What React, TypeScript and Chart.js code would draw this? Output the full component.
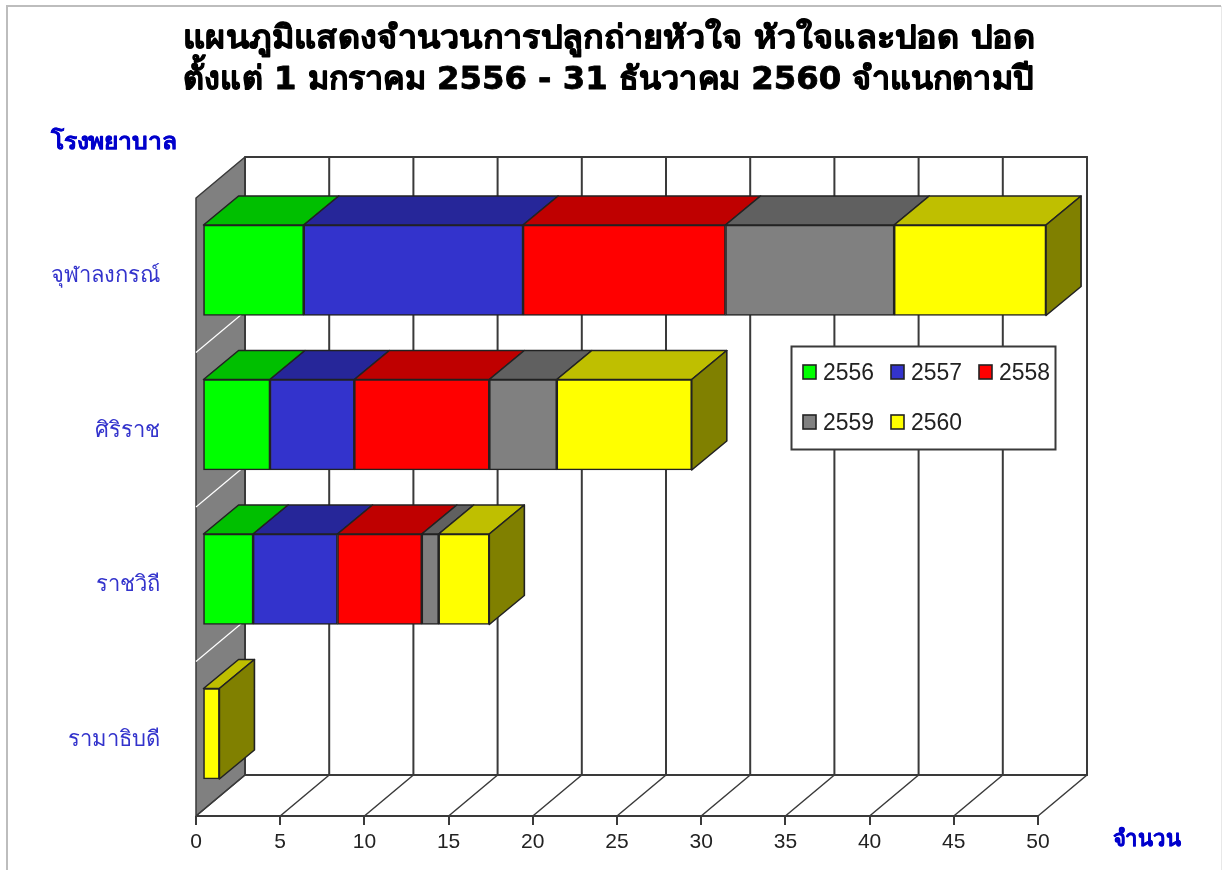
import React, { useEffect, useRef } from "react";
import { Chart, registerables } from "chart.js";

Chart.register(...registerables);

const hospitals = ["จุฬาลงกรณ์", "ศิริราช", "ราชวิถี", "รามาธิบดี"];
const years = ["2556", "2557", "2558", "2559", "2560"];
const y2556 = [6, 4, 3, 0];
const y2557 = [13, 5, 5, 0];
const y2558 = [12, 8, 5, 0];
const y2559 = [10, 4, 1, 0];
const y2560 = [9, 8, 3, 1];
const seriesValues = [y2556, y2557, y2558, y2559, y2560];
const frontColors = ["#00ff00", "#3333cc", "#ff0000", "#808080", "#ffff00"];
const topColors = ["#00bf00", "#262699", "#bf0000", "#606060", "#bfbf00"];
const sideColors = ["#008000", "#1a1a66", "#800000", "#404040", "#808000"];
const titleLines = [
  "แผนภูมิแสดงจำนวนการปลูกถ่ายหัวใจ หัวใจและปอด ปอด",
  "ตั้งแต่ 1 มกราคม 2556 - 31 ธันวาคม 2560 จำแนกตามปี",
];
const yAxisName = "โรงพยาบาล";
const xAxisName = "จำนวน";

const LINE = "#3a3a3a";
const WALL = { dx: 49, dy: -41 };
const BAR_SHIFT = { dx: 6.5, dy: -5, scaleX: 843.5 / 842 };
const DEPTH = { dx: 35, dy: -29 };

function poly(ctx: CanvasRenderingContext2D, pts: number[][], fill: string | null, stroke: string | null, lw = 1.5) {
  ctx.beginPath();
  pts.forEach((p, i) => (i ? ctx.lineTo(p[0], p[1]) : ctx.moveTo(p[0], p[1])));
  if (fill) {
    ctx.closePath();
    ctx.fillStyle = fill;
    ctx.fill();
  }
  if (stroke) {
    ctx.strokeStyle = stroke;
    ctx.lineWidth = lw;
    ctx.stroke();
  }
}

function fitText(ctx: CanvasRenderingContext2D, text: string, x: number, y: number, width: number, heavy = 0) {
  const w = ctx.measureText(text).width;
  ctx.save();
  ctx.translate(x, y);
  ctx.scale(width / w, 1);
  ctx.fillText(text, 0, 0);
  if (heavy) {
    ctx.lineWidth = heavy;
    ctx.strokeStyle = ctx.fillStyle as string;
    ctx.lineJoin = "round";
    ctx.strokeText(text, 0, 0);
  }
  ctx.restore();
}

const scene3d = {
  id: "scene3d",
  beforeDraw(chart: any) {
    const ctx = chart.ctx;
    ctx.save();
    ctx.strokeStyle = "#e8e8e8";
    ctx.lineWidth = 1;
    ctx.beginPath();
    ctx.moveTo(1221.5, 6);
    ctx.lineTo(1221.5, 870);
    ctx.stroke();
    ctx.strokeStyle = "#bdbdbd";
    ctx.lineWidth = 2;
    ctx.beginPath();
    ctx.moveTo(7, 870);
    ctx.lineTo(7, 6);
    ctx.lineTo(1221, 6);
    ctx.stroke();
    ctx.fillStyle = "#000000";
    ctx.font = 'bold 32px "DejaVu Sans", "Noto Sans", sans-serif';
    ctx.textAlign = "left";
    ctx.textBaseline = "middle";
    fitText(ctx, titleLines[0], 183, 40, 852, 0.8);
    fitText(ctx, titleLines[1], 183, 81, 850, 0.8);
    ctx.restore();
  },
  beforeDatasetsDraw(chart: any) {
    const { ctx, chartArea: a, scales } = chart;
    const x = scales.x;
    const { dx, dy } = WALL;
    ctx.save();
    ctx.lineJoin = "round";
    poly(ctx, [[a.left, a.top], [a.left + dx, a.top + dy], [a.left + dx, a.bottom + dy], [a.left, a.bottom]], "#808080", LINE, 1.5);
    const band = (a.bottom - a.top) / hospitals.length;
    for (let i = 1; i < hospitals.length; i++) {
      const yy = a.top + band * i;
      poly(ctx, [[a.left, yy], [a.left + dx, yy + dy]], null, "#ffffff", 1.2);
    }
    poly(ctx, [[a.left + dx, a.top + dy], [a.right + dx, a.top + dy], [a.right + dx, a.bottom + dy], [a.left + dx, a.bottom + dy]], null, LINE, 2);
    ctx.closePath();
    ctx.stroke();
    x.ticks.forEach((t: any) => {
      const px = x.getPixelForValue(t.value);
      poly(ctx, [[px + dx, a.top + dy], [px + dx, a.bottom + dy]], null, LINE, 2);
      poly(ctx, [[px, a.bottom], [px + dx, a.bottom + dy]], null, LINE, 1.5);
    });
    poly(ctx, [[a.left, a.bottom], [a.right, a.bottom]], null, LINE, 2);
    // the bars stand a little inside the front plane
    ctx.translate(a.left + BAR_SHIFT.dx, BAR_SHIFT.dy);
    ctx.scale(BAR_SHIFT.scaleX, 1);
    ctx.translate(-a.left, 0);
    hospitals.forEach((_, j) => {
      let last = -1;
      seriesValues.forEach((vals, i) => {
        if (!vals[j]) return;
        last = i;
        const p = chart.getDatasetMeta(i).data[j].getProps(["x", "y", "base", "height"], true);
        const top = p.y - p.height / 2;
        poly(ctx, [[p.base, top], [p.base + DEPTH.dx, top + DEPTH.dy], [p.x + DEPTH.dx, top + DEPTH.dy], [p.x, top]], topColors[i], "#222222", 1.6);
      });
      if (last >= 0) {
        const p = chart.getDatasetMeta(last).data[j].getProps(["x", "y", "height"], true);
        const top = p.y - p.height / 2;
        const bot = p.y + p.height / 2;
        poly(ctx, [[p.x, top], [p.x + DEPTH.dx, top + DEPTH.dy], [p.x + DEPTH.dx, bot + DEPTH.dy], [p.x, bot]], sideColors[last], "#222222", 1.6);
      }
    });
  },
  afterDatasetsDraw(chart: any) {
    const ctx = chart.ctx;
    ctx.restore();
    ctx.save();
    ctx.fillStyle = "#0000cc";
    ctx.font = 'bold 23px "DejaVu Sans", "Noto Sans", sans-serif';
    ctx.textBaseline = "middle";
    ctx.textAlign = "left";
    fitText(ctx, yAxisName, 51, 143, 126, 0.4);
    fitText(ctx, xAxisName, 1113, 840, 68, 0.4);
    ctx.fillStyle = "#ffffff";
    ctx.strokeStyle = LINE;
    ctx.lineWidth = 2;
    ctx.fillRect(791.5, 346.5, 264, 103);
    ctx.strokeRect(791.5, 346.5, 264, 103);
    const colX = [803, 891, 979];
    const rowY = [372, 422];
    chart.data.datasets.forEach((d: any, i: number) => {
      const sx = colX[i % 3];
      const cy = rowY[Math.floor(i / 3)];
      ctx.fillStyle = d.backgroundColor;
      ctx.strokeStyle = "#222222";
      ctx.lineWidth = 1.6;
      ctx.fillRect(sx, cy - 7, 13, 14);
      ctx.strokeRect(sx, cy - 7, 13, 14);
      ctx.fillStyle = "#222222";
      ctx.font = '24px "Liberation Sans", Arial, sans-serif';
      ctx.textAlign = "left";
      ctx.textBaseline = "middle";
      ctx.fillText(d.label, sx + 20, cy + 1, 51);
    });
    ctx.restore();
  },
};

export default function App() {
  const ref = useRef<HTMLCanvasElement>(null);
  useEffect(() => {
    document.body.style.margin = "0";
    document.body.style.background = "#ffffff";
    const chart = new Chart(ref.current as HTMLCanvasElement, {
      type: "bar",
      plugins: [scene3d],
      data: {
        labels: hospitals,
        datasets: years.map((label, i) => ({
          label,
          data: seriesValues[i],
          backgroundColor: frontColors[i],
          borderColor: "#222222",
          borderWidth: 1.6,
          borderSkipped: false,
          barThickness: 90.5,
          clip: false,
        })),
      },
      options: {
        indexAxis: "y",
        responsive: false,
        animation: false,
        layout: { padding: { left: 0, right: 185, top: 198, bottom: 0 } },
        plugins: {
          legend: { display: false },
          tooltip: { enabled: false },
          title: { display: false },
        },
        scales: {
          x: {
            stacked: true,
            min: 0,
            max: 50,
            ticks: { stepSize: 5, color: "#222222", padding: 5, maxRotation: 0, font: { family: '"Liberation Sans", Arial, sans-serif', size: 21 } },
            grid: { drawOnChartArea: false, drawTicks: true, tickLength: 9, color: LINE, lineWidth: 2 },
            border: { display: false },
            afterFit: (s: any) => { s.height = 54; },
          },
          y: {
            stacked: true,
            ticks: { color: "#3333cc", padding: 36, labelOffset: 1.5, font: { family: '"DejaVu Sans", "Noto Sans", sans-serif', size: 22 } },
            grid: { display: false, drawTicks: false },
            border: { display: false },
            afterFit: (s: any) => { s.width = 196; },
          },
        },
      },
    } as any);
    return () => chart.destroy();
  }, []);
  return <canvas ref={ref} width={1223} height={870} style={{ display: "block" }} />;
}
